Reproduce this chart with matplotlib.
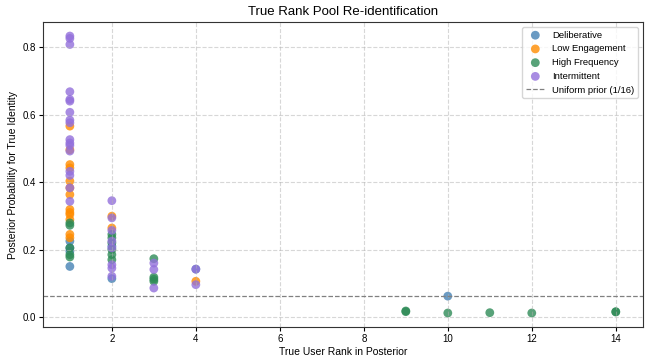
import matplotlib
matplotlib.use("Agg")
import matplotlib.pyplot as plt

plt.rcParams["font.family"] = ["Liberation Sans", "DejaVu Sans"]

groups = ["Deliberative", "Low Engagement", "High Frequency", "Intermittent"]
colors = ["steelblue", "darkorange", "seagreen", "mediumpurple"]

delib_rank = [1, 1, 1, 1, 2, 2, 4, 10]
delib_prob = [0.225, 0.205, 0.195, 0.150, 0.114, 0.210, 0.142, 0.062]

low_rank = [1, 1, 1, 1, 1, 1, 1, 1, 1, 1, 1, 1, 1, 2, 2, 4]
low_prob = [0.566, 0.496, 0.452, 0.442, 0.403, 0.383, 0.363, 0.319, 0.304,
            0.289, 0.245, 0.235, 0.310, 0.299, 0.264, 0.106]

high_rank = [1, 1, 1, 1, 1, 2, 2, 2, 2, 2, 2, 3, 3, 3, 3,
             9, 9, 10, 11, 12, 14, 14]
high_prob = [0.279, 0.272, 0.205, 0.185, 0.178, 0.245, 0.235, 0.220, 0.185,
             0.170, 0.200, 0.173, 0.118, 0.106, 0.112,
             0.018, 0.016, 0.012, 0.013, 0.012, 0.016, 0.015]

inter_rank = [1] * 17 + [2] * 8 + [3] * 3 + [4] * 2
inter_prob = [0.833, 0.826, 0.808, 0.668, 0.645, 0.640, 0.607, 0.584, 0.576,
              0.526, 0.516, 0.509, 0.492, 0.432, 0.420, 0.383, 0.343,
              0.345, 0.294, 0.257, 0.225, 0.205, 0.155, 0.145, 0.121,
              0.160, 0.141, 0.086,
              0.142, 0.096]

series = [(delib_rank, delib_prob), (low_rank, low_prob),
          (high_rank, high_prob), (inter_rank, inter_prob)]

fig, ax = plt.subplots(figsize=(6.45, 3.58), dpi=100)
for (r, p), name, c in zip(series, groups, colors):
    ax.scatter(r, p, s=40, color=c, alpha=0.8, edgecolors="none", label=name)
ax.axhline(1 / 16, color="gray", linestyle="--", linewidth=0.9,
           label="Uniform prior (1/16)")

ax.set_xlabel("True User Rank in Posterior", fontsize=7.5, labelpad=2)
ax.set_ylabel("Posterior Probability for True Identity", fontsize=7.5, labelpad=3)
ax.set_title("True Rank Pool Re-identification", fontsize=9.5, pad=5)
ax.tick_params(labelsize=7, length=3, pad=2)
for sp in ax.spines.values():
    sp.set_color("#333333")
ax.grid(True, linestyle="--", alpha=0.5)
ax.legend(loc="upper right", fontsize=6.8)
fig.subplots_adjust(left=0.066, right=0.997, top=0.938, bottom=0.087)
fig.savefig("out.png", dpi=100)
